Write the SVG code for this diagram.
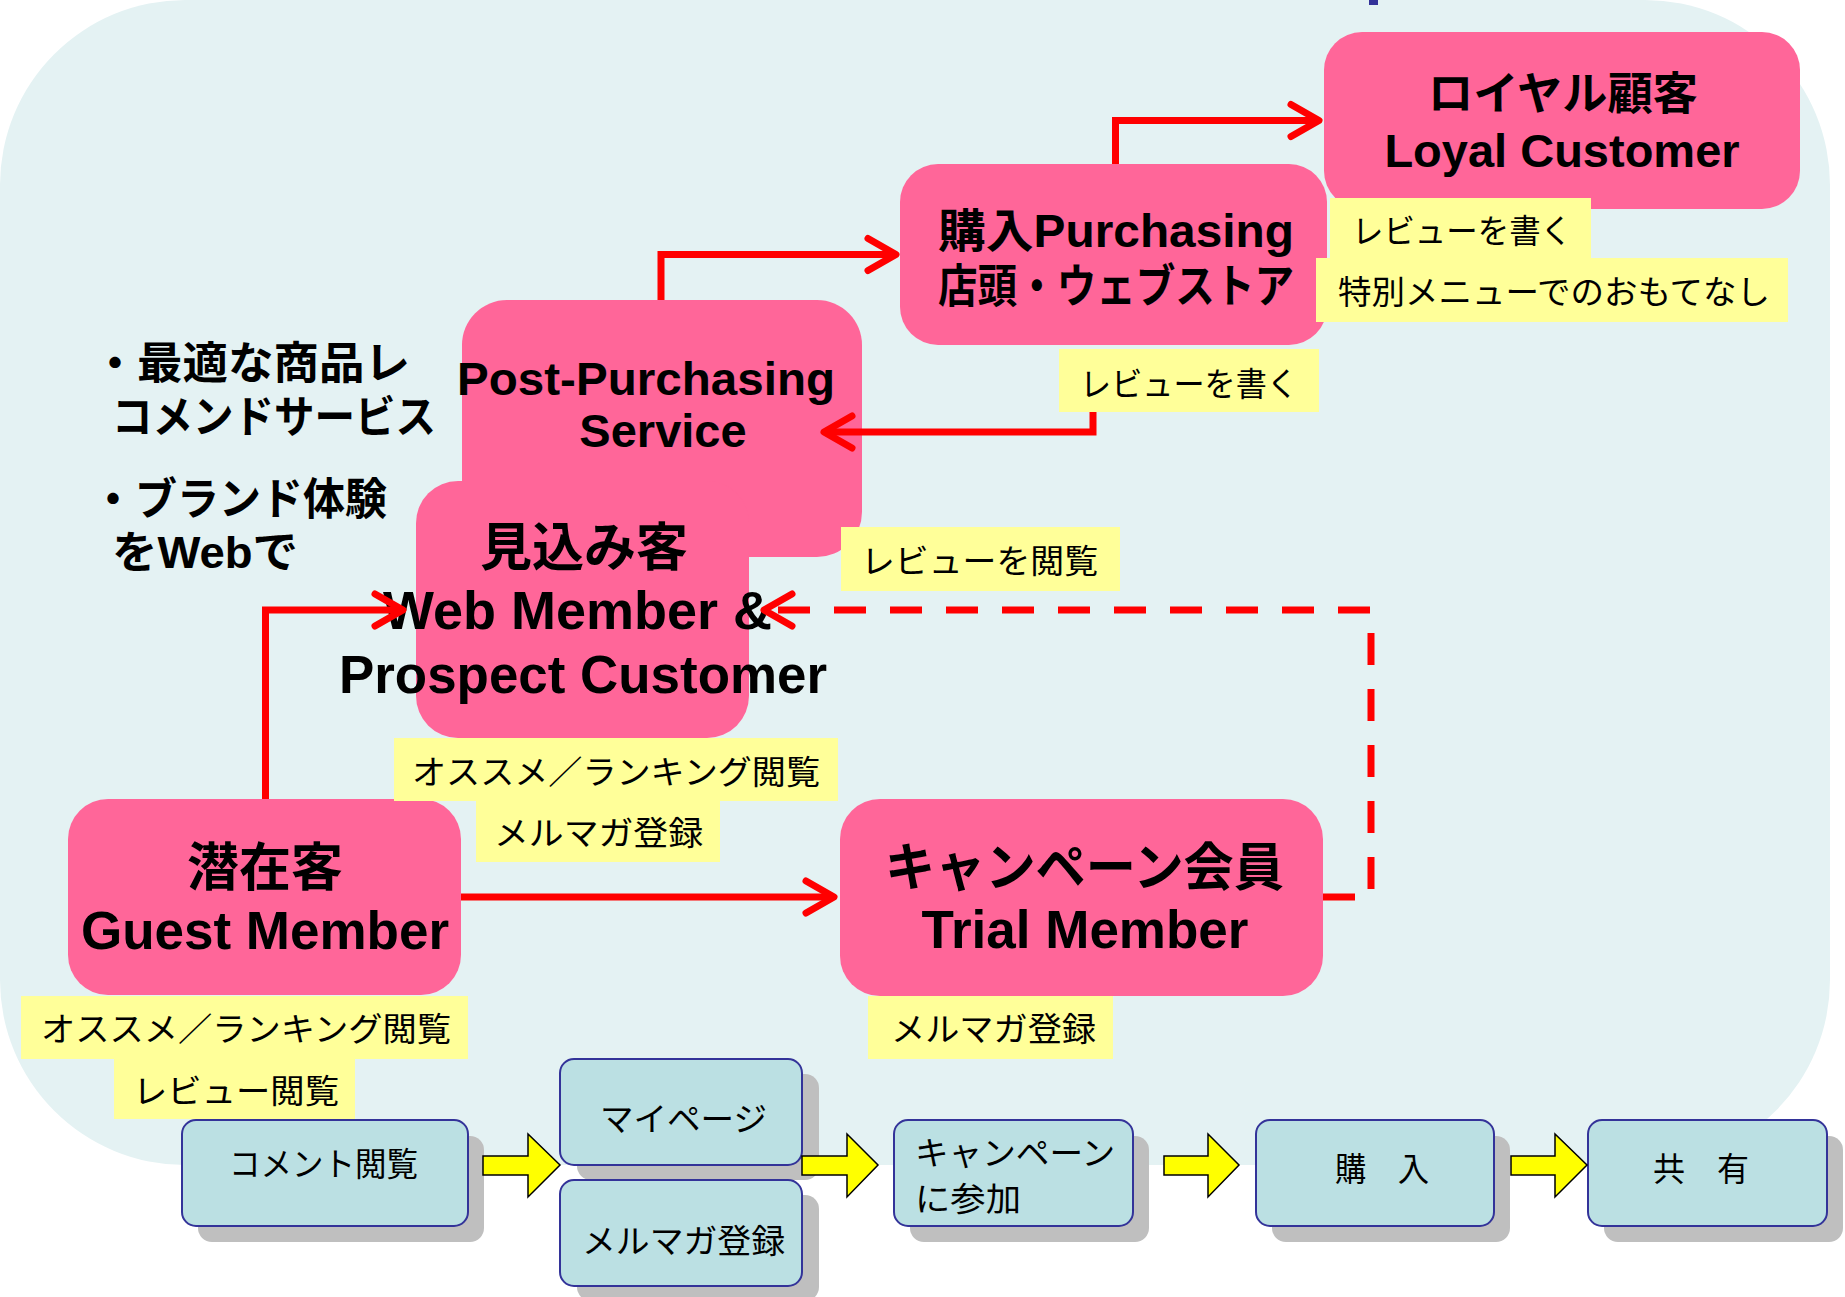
<svg xmlns="http://www.w3.org/2000/svg" width="1845" height="1297" viewBox="0 0 1845 1297">
<style>
text{font-family:"Liberation Sans","Noto Sans CJK JP",sans-serif;fill:#000}
.b{font-weight:bold}
.pink{fill:#FF6699}
.lab{fill:#FFFF99}
.lt{font-size:33px}
.proc{fill:#BBE0E3;stroke:#333399;stroke-width:2}
.shadow{fill:#BFBFBF}
.yarrow{fill:#FFFF00;stroke:#000;stroke-width:1.5;stroke-linejoin:miter}
.red{fill:none;stroke:#FF0000;stroke-width:7}
.dash{stroke-dasharray:32 24}
</style>
<defs>
<marker id="ah" markerUnits="userSpaceOnUse" viewBox="-40 -25 50 50" refX="0" refY="0" markerWidth="50" markerHeight="50" orient="auto" overflow="visible">
<path d="M-28,-16 L0,0 L-28,16" fill="none" stroke="#FF0000" stroke-width="7" stroke-linecap="round" stroke-linejoin="round"/>
</marker>
</defs>
<rect x="0" y="0" width="1830" height="1165" rx="185" ry="185" fill="#E4F2F3"/>
<rect x="1369" y="0" width="9" height="5" fill="#333399"/>

<g id="loyal">
<rect class="pink" x="1324" y="32" width="476" height="177" rx="38"/>
<text class="b" x="1428" y="110" font-size="45" textLength="270" lengthAdjust="spacingAndGlyphs">ロイヤル顧客</text>
<text class="b" x="1562" y="167" font-size="47" text-anchor="middle">Loyal Customer</text>
</g>
<g id="purchasing">
<rect class="pink" x="900" y="164" width="427" height="181" rx="38"/>
<text class="b" x="938" y="247" font-size="46" textLength="356" lengthAdjust="spacingAndGlyphs">購入Purchasing</text>
<text class="b" x="938" y="302" font-size="46" textLength="356" lengthAdjust="spacingAndGlyphs">店頭・ウェブストア</text>
</g>
<g id="post-purchasing">
<rect class="pink" x="462" y="300" width="400" height="257" rx="45"/>
<text class="b" x="457" y="395" font-size="47" textLength="378" lengthAdjust="spacingAndGlyphs">Post-Purchasing</text>
<text class="b" x="663" y="447" font-size="47" text-anchor="middle">Service</text>
</g>
<g id="web-member">
<rect class="pink" x="416" y="481" width="333" height="257" rx="42"/>
<text class="b" x="584" y="566" font-size="52" text-anchor="middle">見込み客</text>
<text class="b" x="383" y="629" font-size="53" textLength="389" lengthAdjust="spacingAndGlyphs">Web Member &amp;</text>
<text class="b" x="339" y="693" font-size="53" textLength="488" lengthAdjust="spacingAndGlyphs">Prospect Customer</text>
</g>
<g id="guest-member">
<rect class="pink" x="68" y="799" width="393" height="196" rx="40"/>
<text class="b" x="265" y="886" font-size="52" text-anchor="middle">潜在客</text>
<text class="b" x="265" y="949" font-size="53" text-anchor="middle">Guest Member</text>
</g>
<g id="trial-member">
<rect class="pink" x="840" y="799" width="483" height="197" rx="40"/>
<text class="b" x="885" y="886" font-size="52" textLength="399" lengthAdjust="spacingAndGlyphs">キャンペーン会員</text>
<text class="b" x="1085" y="948" font-size="53" text-anchor="middle">Trial Member</text>
</g>

<g id="side-note">
<text class="b" y="379" font-size="44"><tspan x="93">・</tspan><tspan x="137" textLength="273" lengthAdjust="spacingAndGlyphs">最適な商品レ</tspan></text>
<text class="b" x="112" y="433" font-size="44" textLength="324" lengthAdjust="spacingAndGlyphs">コメンドサービス</text>
<text class="b" y="515" font-size="44"><tspan x="91">・</tspan><tspan x="135" textLength="252" lengthAdjust="spacingAndGlyphs">ブランド体験</tspan></text>
<text class="b" x="112" y="568" font-size="44" textLength="186" lengthAdjust="spacingAndGlyphs">をWebで</text>
</g>

<g id="label-loyal-review">
<rect class="lab" x="1330" y="198" width="261" height="60"/>
<text class="lt" x="1352" y="243" textLength="220" lengthAdjust="spacingAndGlyphs">レビューを書く</text>
</g>
<g id="label-loyal-special">
<rect class="lab" x="1316" y="258" width="472" height="64"/>
<text class="lt" x="1338" y="304" textLength="432" lengthAdjust="spacingAndGlyphs">特別メニューでのおもてなし</text>
</g>
<g id="label-purchase-review">
<rect class="lab" x="1059" y="349" width="260" height="63"/>
<text class="lt" x="1080" y="396" textLength="218" lengthAdjust="spacingAndGlyphs">レビューを書く</text>
</g>
<g id="label-read-review">
<rect class="lab" x="841" y="527" width="279" height="64"/>
<text class="lt" x="861" y="573" textLength="237" lengthAdjust="spacingAndGlyphs">レビューを閲覧</text>
</g>
<g id="label-web-ranking">
<rect class="lab" x="394" y="738" width="444" height="63"/>
<text class="lt" x="412" y="784" textLength="408" lengthAdjust="spacingAndGlyphs">オススメ／ランキング閲覧</text>
</g>
<g id="label-web-mail">
<rect class="lab" x="476" y="801" width="244" height="61"/>
<text class="lt" x="494" y="845" textLength="209" lengthAdjust="spacingAndGlyphs">メルマガ登録</text>
</g>
<g id="label-guest-ranking">
<rect class="lab" x="21" y="996" width="447" height="63"/>
<text class="lt" x="41" y="1041" textLength="410" lengthAdjust="spacingAndGlyphs">オススメ／ランキング閲覧</text>
</g>
<g id="label-guest-review">
<rect class="lab" x="114" y="1059" width="241" height="60"/>
<text class="lt" x="133" y="1103" textLength="206" lengthAdjust="spacingAndGlyphs">レビュー閲覧</text>
</g>
<g id="label-trial-mail">
<rect class="lab" x="868" y="996" width="245" height="63"/>
<text class="lt" x="891" y="1041" textLength="205" lengthAdjust="spacingAndGlyphs">メルマガ登録</text>
</g>

<g id="step-comment">
<rect class="shadow" x="198" y="1136" width="286" height="106" rx="14"/>
<rect class="proc" x="182" y="1120" width="286" height="106" rx="14"/>
<text class="lt" x="229" y="1176" textLength="189" lengthAdjust="spacingAndGlyphs">コメント閲覧</text>
</g>
<g id="step-mypage">
<rect class="shadow" x="577" y="1074" width="242" height="106" rx="14"/>
<rect class="proc" x="560" y="1059" width="242" height="106" rx="14"/>
<text class="lt" x="600" y="1131" textLength="167" lengthAdjust="spacingAndGlyphs">マイページ</text>
</g>
<g id="step-mail">
<rect class="shadow" x="577" y="1195" width="242" height="106" rx="14"/>
<rect class="proc" x="560" y="1180" width="242" height="106" rx="14"/>
<text class="lt" x="582" y="1253" textLength="203" lengthAdjust="spacingAndGlyphs">メルマガ登録</text>
</g>
<g id="step-campaign">
<rect class="shadow" x="910" y="1136" width="239" height="106" rx="14"/>
<rect class="proc" x="894" y="1120" width="239" height="106" rx="14"/>
<text class="lt" x="915" y="1165" textLength="200" lengthAdjust="spacingAndGlyphs">キャンペーン</text>
<text class="lt" x="915" y="1211" textLength="106" lengthAdjust="spacingAndGlyphs">に参加</text>
</g>
<g id="step-purchase">
<rect class="shadow" x="1272" y="1136" width="238" height="106" rx="14"/>
<rect class="proc" x="1256" y="1120" width="238" height="106" rx="14"/>
<text class="lt" x="1335" y="1181" textLength="94" lengthAdjust="spacingAndGlyphs">購　入</text>
</g>
<g id="step-share">
<rect class="shadow" x="1604" y="1136" width="239" height="106" rx="14"/>
<rect class="proc" x="1588" y="1120" width="239" height="106" rx="14"/>
<text class="lt" x="1653" y="1181" textLength="96" lengthAdjust="spacingAndGlyphs">共　有</text>
</g>

<g id="connectors">
<polygon class="yarrow" points="483,1156 528,1156 528,1134 560,1165 528,1197 528,1175 483,1175"/>
<polygon class="yarrow" points="802,1156 847,1156 847,1134 878,1165 847,1197 847,1175 802,1175"/>
<polygon class="yarrow" points="1164,1156 1208,1156 1208,1134 1239,1165 1208,1197 1208,1175 1164,1175"/>
<polygon class="yarrow" points="1511,1156 1555,1156 1555,1134 1587,1165 1555,1197 1555,1175 1511,1175"/>
<path class="red" d="M265.5,799 V610 H403" marker-end="url(#ah)"/>
<path class="red" d="M461,897 H834" marker-end="url(#ah)"/>
<path class="red dash" d="M1323,897 H1371 V610 H764" marker-end="url(#ah)"/>
<path class="red" d="M661,300 V254.5 H896" marker-end="url(#ah)"/>
<path class="red" d="M1115.5,164 V120.5 H1319" marker-end="url(#ah)"/>
<path class="red" d="M1093,412 V432 H824" marker-end="url(#ah)"/>
</g>
</svg>
